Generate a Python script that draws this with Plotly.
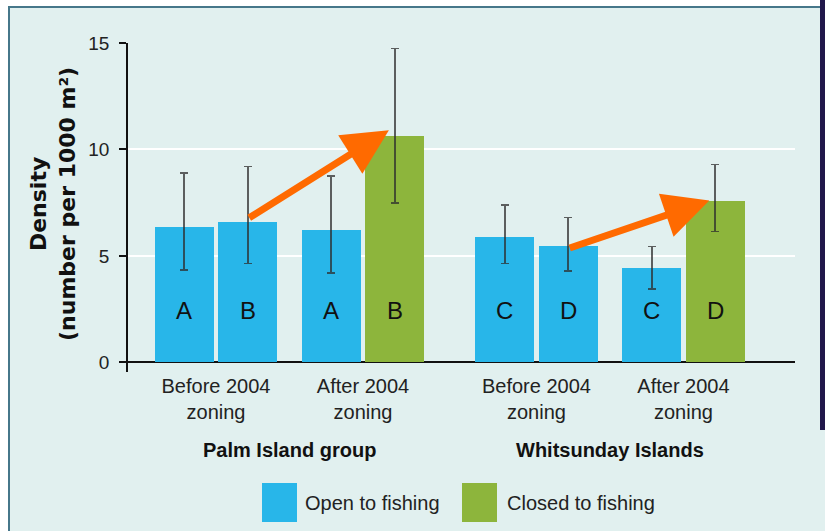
import plotly.graph_objects as go

# ---------------- data ----------------
groups = ["Palm Island group", "Whitsunday Islands"]
periods = ["Before 2004<br>zoning", "After 2004<br>zoning"]
# bars: two per (group, period), in order
bar_group = [0, 0, 0, 0, 1, 1, 1, 1]
bar_period = [0, 0, 1, 1, 0, 0, 1, 1]
bar_side = [0, 1, 0, 1, 0, 1, 0, 1]
bar_status = ["Open", "Open", "Open", "Closed", "Open", "Open", "Open", "Closed"]
values = [6.35, 6.6, 6.2, 10.65, 5.9, 5.45, 4.45, 7.6]
err_high = [8.9, 9.2, 8.75, 14.75, 7.4, 6.8, 5.45, 9.3]
err_low = [4.35, 4.65, 4.2, 7.5, 4.65, 4.3, 3.45, 6.15]
letters = ["A", "B", "A", "B", "C", "D", "C", "D"]
y_ticks = [0, 5, 10, 15]
legend_names = {"Open": "Open to fishing", "Closed": "Closed to fishing"}
arrow_from = [1, 5]
arrow_to = [3, 7]
arrow_y0 = [6.75, 5.35]
arrow_y1 = [10.9, 7.6]

# ---------------- styling ----------------
colors = {"Open": "#28B6E9", "Closed": "#8DB53C"}
bg = "#E1F0EF"
GROUP_STEP = 2.18
BAR_OFF = 0.216
BAR_W = 0.40
LETTER_Y = 2.45

W, H = 825, 531
ML, MR, MT, MB = 128, 30, 43, 159
PW, PH = W - ML - MR, H - MT - MB


def xp(px):
    return (px - ML) / PW


def yp(py):
    return (H - MB - py) / PH


pair_x = [[g * GROUP_STEP + p for p in range(len(periods))] for g in range(len(groups))]
bar_x = [pair_x[g][p] + (BAR_OFF if s else -BAR_OFF)
         for g, p, s in zip(bar_group, bar_period, bar_side)]

fig = go.Figure()
for status in ["Open", "Closed"]:
    idx = [i for i, s in enumerate(bar_status) if s == status]
    fig.add_trace(go.Bar(
        x=[bar_x[i] for i in idx],
        y=[values[i] for i in idx],
        width=BAR_W,
        name=legend_names[status],
        marker=dict(color=colors[status], line=dict(width=0)),
        error_y=dict(
            type="data", symmetric=False,
            array=[err_high[i] - values[i] for i in idx],
            arrayminus=[values[i] - err_low[i] for i in idx],
            color="rgba(45,45,45,0.75)", thickness=1.6, width=4,
        ),
        showlegend=False,
    ))

annotations = []
# letters in bars
for i, t in enumerate(letters):
    annotations.append(dict(x=bar_x[i], y=LETTER_Y, text=t, showarrow=False,
                            font=dict(family="Liberation Sans, Arial", size=24, color="#111")))
# arrows
for f, t, y0, y1 in zip(arrow_from, arrow_to, arrow_y0, arrow_y1):
    annotations.append(dict(x=bar_x[t] - 0.04, y=y1, ax=bar_x[f], ay=y0,
                            xref="x", yref="y", axref="x", ayref="y",
                            text="", showarrow=True, arrowhead=2, arrowsize=1.3,
                            arrowwidth=7, arrowcolor="#FF6A00"))
# group labels
for g, name in enumerate(groups):
    cx = sum(pair_x[g]) / len(pair_x[g])
    annotations.append(dict(x=cx, xref="x", y=yp(450), yref="paper", text="<b>%s</b>" % name,
                            showarrow=False, yanchor="middle",
                            font=dict(family="Liberation Sans, Arial", size=20, color="#111")))
# y title
annotations.append(dict(x=xp(53), y=yp(204), xref="paper", yref="paper",
                        text="<b>Density<br>(number per 1000 m²)</b>", textangle=-90,
                        showarrow=False, xanchor="center", yanchor="middle",
                        font=dict(family="DejaVu Sans", size=22, color="#111")))

shapes = []
# custom legend
leg_items = [("Open", 262, 303), ("Closed", 462, 505)]
for status, sx, tx in leg_items:
    shapes.append(dict(type="rect", xref="paper", yref="paper",
                       x0=xp(sx), x1=xp(sx + 35), y0=yp(522), y1=yp(483),
                       fillcolor=colors[status], line=dict(width=0)))
    annotations.append(dict(x=xp(tx), y=yp(503), xref="paper", yref="paper",
                            text=legend_names[status], showarrow=False,
                            xanchor="left", yanchor="middle",
                            font=dict(family="Liberation Sans, Arial", size=20, color="#222")))
# frame decoration
shapes += [
    dict(type="rect", xref="paper", yref="paper", x0=xp(0), x1=xp(W), y0=yp(6), y1=yp(0),
         fillcolor="white", line=dict(width=0)),
    dict(type="rect", xref="paper", yref="paper", x0=xp(0), x1=xp(8), y0=yp(H), y1=yp(0),
         fillcolor="white", line=dict(width=0)),
    dict(type="line", xref="paper", yref="paper", x0=xp(8), x1=xp(820), y0=yp(7), y1=yp(7),
         line=dict(color="#46778A", width=2)),
    dict(type="line", xref="paper", yref="paper", x0=xp(9), x1=xp(9), y0=yp(7), y1=yp(H),
         line=dict(color="#46778A", width=2)),
    dict(type="rect", xref="paper", yref="paper", x0=xp(820), x1=xp(W), y0=yp(430), y1=yp(0),
         fillcolor="#21174A", line=dict(width=0)),
]

fig.update_layout(
    width=W, height=H,
    margin=dict(l=ML, r=MR, t=MT, b=MB),
    paper_bgcolor=bg, plot_bgcolor=bg,
    bargap=0,
    annotations=annotations,
    shapes=shapes,
    font=dict(family="Liberation Sans, Arial", color="#222"),
)
fig.update_xaxes(
    range=[(ML - 216) / 147, (W - MR - 216) / 147],
    tickvals=[x for row in pair_x for x in row],
    ticktext=periods * len(groups),
    tickfont=dict(size=20, color="#222"),
    showgrid=False, zeroline=False, showline=False, ticks="",
)
fig.update_yaxes(
    range=[-0.45, 15],
    tickvals=y_ticks,
    tickfont=dict(size=19, color="#222"),
    showgrid=True, gridcolor="white", gridwidth=2,
    zeroline=True, zerolinecolor="#111", zerolinewidth=1.5,
    showline=True, linecolor="#111", linewidth=1.5,
    ticks="outside", ticklen=7, tickcolor="#111", tickwidth=1.5,
    ticklabelstandoff=6,
)

fig.write_html("out.html", config={"displayModeBar": False},
               post_script="document.body.style.margin='0';document.body.style.overflow='hidden';")
